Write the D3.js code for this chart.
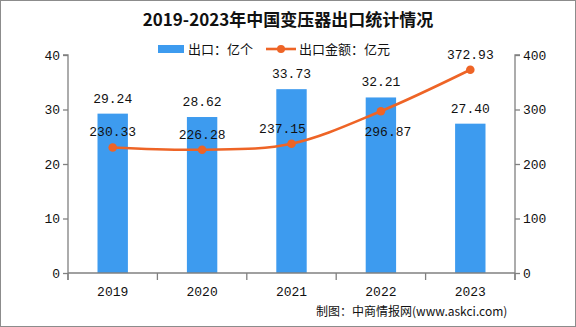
<!DOCTYPE html>
<html><head><meta charset="utf-8">
<script src="https://cdn.jsdelivr.net/npm/d3@7"></script>
<style>body{margin:0;background:#fff}svg{display:block}</style>
</head><body><svg id="c" width="576" height="327"></svg>
<script>
const years = ["2019","2020","2021","2022","2023"];
const exportQty = [29.24, 28.62, 33.73, 32.21, 27.40];
const exportValue = [230.33, 226.28, 237.15, 296.87, 372.93];
const leftTicks = [0, 10, 20, 30, 40];
const rightTicks = [0, 100, 200, 300, 400];
const titleText = "2019-2023年中国变压器出口统计情况";
const legendQty = "出口：亿个";
const legendValue = "出口金额：亿元";
const footerText = "制图：中商情报网(www.askci.com)";

const W = 576, H = 327;
const m = {l: 68, r: 61, t: 55, b: 54};
const svg = d3.select("#c");
const numFont = "'Liberation Mono', monospace";
const cjkFont = "'Noto Sans CJK SC', sans-serif";
const blue = "#3d9bef", orange = "#ee6426", axisC = "#808080";

svg.append("rect").attr("x",0.5).attr("y",0.5).attr("width",W-1).attr("height",H-1)
  .attr("fill","#fff").attr("stroke","#8c8c8c");

const x = d3.scaleBand().domain(years).range([m.l, W - m.r]).paddingInner(0.66).paddingOuter(0.33);
const xb = d3.scaleBand().domain(years).range([m.l, W - m.r]);
const yL = d3.scaleLinear().domain([0, 40]).range([H - m.b, m.t]);
const yR = d3.scaleLinear().domain([0, 400]).range([H - m.b, m.t]);

// bars
svg.append("g").selectAll("rect").data(years).join("rect")
  .attr("x", d => x(d)).attr("width", x.bandwidth())
  .attr("y", (d,i) => yL(exportQty[i])).attr("height", (d,i) => yL(0) - yL(exportQty[i]))
  .attr("fill", blue);

// axes
const gl = svg.append("g").attr("transform", `translate(${m.l},0)`)
  .call(d3.axisLeft(yL).tickValues(leftTicks).tickSize(5).tickPadding(3));
const gr = svg.append("g").attr("transform", `translate(${W - m.r},0)`)
  .call(d3.axisRight(yR).tickValues(rightTicks).tickSize(5).tickPadding(3));
const gb = svg.append("g").attr("transform", `translate(0,${H - m.b})`)
  .call(d3.axisBottom(xb).tickSize(0).tickPadding(14));
// boundary ticks on x axis
const bounds = years.map(d => xb(d)).concat([xb(years[years.length-1]) + xb.bandwidth()]);
gb.selectAll("line.bt").data(bounds).join("line").attr("class","bt")
  .attr("x1", d => d).attr("x2", d => d).attr("y1", 0).attr("y2", 7);
[gl, gr, gb].forEach(g => {
  g.select(".domain").attr("stroke", axisC).attr("stroke-width", 1.3);
  g.selectAll("line").attr("stroke", axisC).attr("stroke-width", 1.3);
  g.selectAll("text").attr("font-family", numFont).attr("font-size", 13).attr("fill", "#111");
});
gl.select(".domain").attr("d", `M-5,${yL(40)}H0V${yL(0)+7}`);
gr.select(".domain").attr("d", `M5,${yR(400)}H0V${yR(0)+7}`);
gb.select(".domain").attr("d", `M${m.l},0H${W-m.r}`);

// line
const cx = d => xb(d) + xb.bandwidth()/2;
const line = d3.line().x((d,i) => cx(years[i])).y(d => yR(d)).curve(d3.curveCardinal);
svg.append("path").datum(exportValue).attr("d", line)
  .attr("fill","none").attr("stroke", orange).attr("stroke-width", 2.6);
svg.append("g").selectAll("circle").data(exportValue).join("circle")
  .attr("cx", (d,i) => cx(years[i])).attr("cy", d => yR(d)).attr("r", 4.3).attr("fill", orange);

// bar labels
svg.append("g").selectAll("text").data(exportQty).join("text")
  .attr("x", (d,i) => cx(years[i])).attr("y", d => yL(d) - 11)
  .attr("text-anchor","middle").attr("font-family", numFont).attr("font-size", 13)
  .attr("fill","#111").text(d => d.toFixed(2));

// line labels (2022 placed below its point, others above)
svg.append("g").selectAll("text").data(exportValue).join("text")
  .attr("x", (d,i) => cx(years[i]) + (i === 3 ? 7 : i === 2 ? -9 : 0))
  .attr("y", (d,i) => yR(d) + (i === 3 ? 25 : -11))
  .attr("text-anchor","middle").attr("font-family", numFont).attr("font-size", 13)
  .attr("fill","#111").text(d => d.toFixed(2));

// title
svg.append("text").attr("x", 288).attr("y", 26).attr("text-anchor","middle")
  .attr("font-family", cjkFont).attr("font-weight","bold").attr("font-size", 17)
  .attr("fill","#111").text(titleText);

// legend
const lg = svg.append("g");
lg.append("rect").attr("x", 158).attr("y", 45).attr("width", 26).attr("height", 8).attr("fill", blue);
lg.append("text").attr("x", 188).attr("y", 54).attr("font-family", cjkFont).attr("font-size", 13)
  .attr("fill","#111").text(legendQty);
lg.append("line").attr("x1", 266).attr("x2", 296).attr("y1", 49).attr("y2", 49)
  .attr("stroke", orange).attr("stroke-width", 2.6);
lg.append("circle").attr("cx", 281).attr("cy", 49).attr("r", 4).attr("fill", orange);
lg.append("text").attr("x", 299).attr("y", 54).attr("font-family", cjkFont).attr("font-size", 13)
  .attr("fill","#111").text(legendValue);

// footer
svg.append("text").attr("x", 316).attr("y", 316).attr("font-family", cjkFont).attr("font-size", 12)
  .attr("fill","#111").text(footerText);
</script></body></html>
